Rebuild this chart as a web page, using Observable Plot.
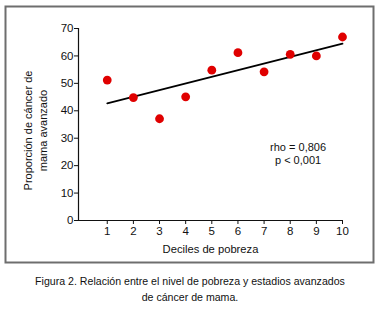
<!DOCTYPE html>
<html>
<head>
<meta charset="utf-8">
<script src="https://cdn.jsdelivr.net/npm/d3@7"></script>
<script src="https://cdn.jsdelivr.net/npm/@observablehq/plot@0.6"></script>
<style>
  html, body { margin: 0; padding: 0; background: #fff; }
  body { width: 380px; height: 311px; position: relative; overflow: hidden;
         font-family: "Liberation Sans", Arial, sans-serif; }
  #chart { position: absolute; left: 0; top: 0; }
  #caption { position: absolute; left: 0; top: 273px; width: 380px; text-align: center;
             font-size: 10.6px; line-height: 16px; color: #111; }
</style>
</head>
<body>
<div id="chart"></div>
<div id="caption">Figura 2. Relación entre el nivel de pobreza y estadios avanzados<br>de cáncer de mama.</div>
<script>
const deciles = [1, 2, 3, 4, 5, 6, 7, 8, 9, 10];
const proporcion = [51.2, 44.8, 37.1, 45.1, 54.8, 61.2, 54.2, 60.6, 60.0, 66.9];
const yTicks = [0, 10, 20, 30, 40, 50, 60, 70];
const xTicks = [1, 2, 3, 4, 5, 6, 7, 8, 9, 10];
const xLabel = "Deciles de pobreza";
const yLabelLines = ["Proporción de cáncer de", "mama avanzado"];
const statsText = ["rho = 0,806", "p < 0,001"];
const statsY = [26.6, 21.9];
const statsX = 8.3;

const data = deciles.map((d, i) => ({decil: d, prop: proporcion[i]}));
const stats = statsText.map((t, i) => ({t, y: statsY[i]}));
const xDomain = [-0.1, 10];
const yDomain = [0, 70];
const yLabelCenter = 32.8;
const font = '"Liberation Sans", Arial, sans-serif';

const plot = Plot.plot({
  width: 380,
  height: 266,
  marginLeft: 78,
  marginRight: 38,
  marginTop: 28,
  marginBottom: 46,
  style: {fontFamily: font, fontSize: "11px", color: "#111", background: "transparent", overflow: "visible"},
  x: {domain: xDomain},
  y: {domain: yDomain},
  marks: [
    Plot.frame({stroke: "#6e6e6e", strokeWidth: 2, insetLeft: -73, insetRight: -31, insetTop: -22, insetBottom: -42}),
    Plot.axisX({ticks: xTicks, tickSize: 4, tickPadding: 2, tickFormat: d => String(d), label: null, fontSize: 11.5}),
    Plot.axisY({ticks: yTicks, tickSize: 4, tickPadding: 1, tickFormat: d => String(d), label: null, fontSize: 11.5}),
    Plot.ruleX([xDomain[0]], {stroke: "#111", strokeWidth: 1.2}),
    Plot.ruleY([yDomain[0]], {stroke: "#111", strokeWidth: 1.2}),
    Plot.linearRegressionY(data, {x: "decil", y: "prop", ci: 0, stroke: "#000", strokeWidth: 1.8}),
    Plot.dot(data, {x: "decil", y: "prop", r: 4.4, fill: "#e00000", stroke: "none"}),
    Plot.text(stats, {x: () => statsX, y: "y", text: "t", fontSize: 11, textAnchor: "middle", fill: "#111"}),
    Plot.text([xLabel], {frameAnchor: "bottom", dy: 32, text: d => d, fontSize: 11.2, fill: "#111"}),
    Plot.text([yLabelLines[0]], {x: () => xDomain[0], y: () => yLabelCenter, dx: -50, rotate: -90, text: d => d, fontSize: 11, fill: "#111", textAnchor: "middle"}),
    Plot.text([yLabelLines[1]], {x: () => xDomain[0], y: () => yLabelCenter, dx: -35, rotate: -90, text: d => d, fontSize: 11, fill: "#111", textAnchor: "middle"})
  ]
});
document.getElementById("chart").appendChild(plot);
</script>
</body>
</html>
